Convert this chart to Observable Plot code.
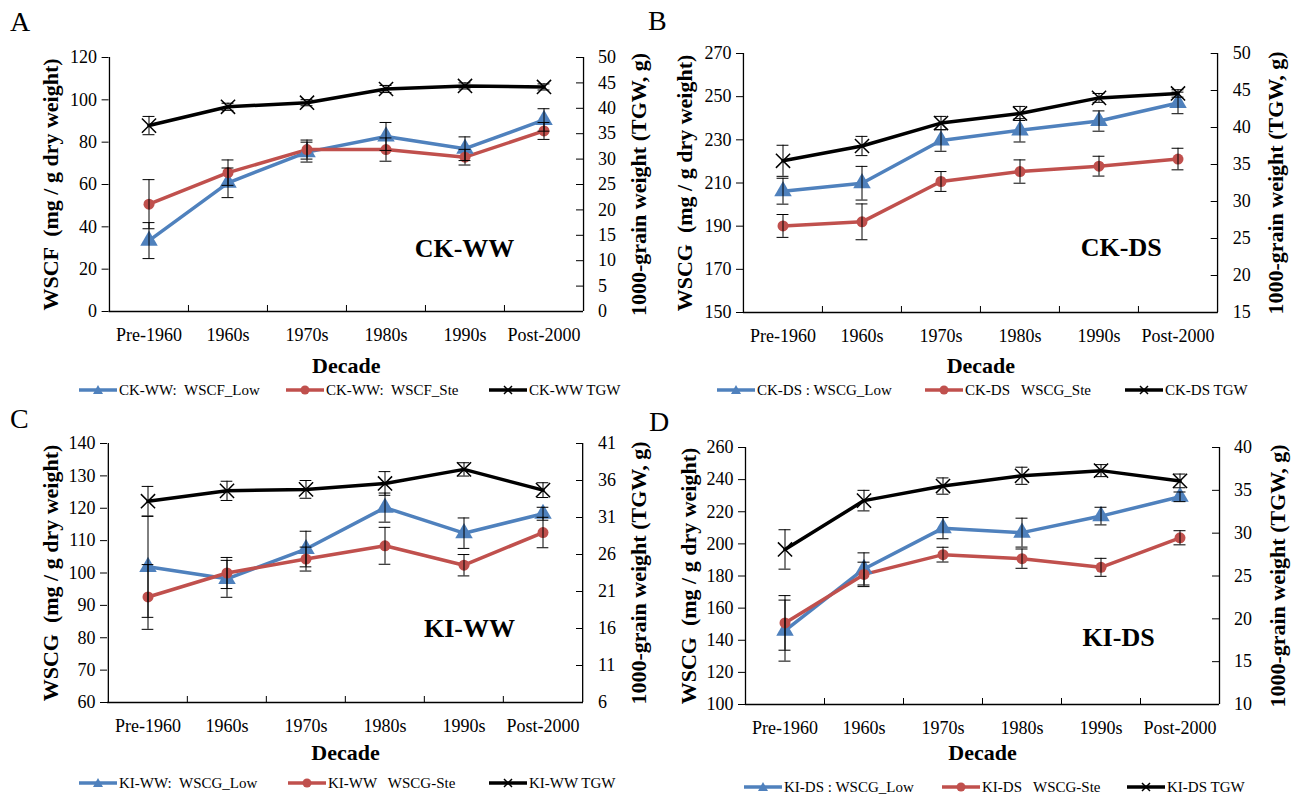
<!DOCTYPE html>
<html><head><meta charset="utf-8">
<script src="https://cdn.jsdelivr.net/npm/d3@7"></script>
<script src="https://cdn.jsdelivr.net/npm/@observablehq/plot@0.6"></script>
<style>
body{margin:0;background:#fff;}
#root{position:relative;width:1291px;height:795px;overflow:hidden;font-family:"Liberation Serif","Times New Roman",serif;color:#000;}
.panel{position:absolute;}
.letter{position:absolute;font-size:28px;line-height:1;}
.leg{position:absolute;font-size:15px;line-height:16px;white-space:pre;display:flex;align-items:center;}
.leg svg{margin-right:2px;}
</style></head><body><div id="root"></div>
<script>
const decades = ["Pre-1960","1960s","1970s","1980s","1990s","Post-2000"];

// Panel A: CK-WW (WSCF)
const aLow = [33.5, 60.8, 75.3, 82.7, 76.9, 90.5];
const aLowErr = [8.5, 7, 4.7, 6.6, 5.6, 5.3];
const aSte = [50.7, 65.6, 76.5, 76.5, 72.9, 85.3];
const aSteErr = [11.6, 6, 4.5, 5.5, 3.7, 4];
const aTgw = [36.6, 40.3, 41.1, 43.8, 44.4, 44.2];
const aTgwErr = [1.8, 0.7, 0.6, 0.7, 0.6, 0.6];
const aTicksLeft = [0, 20, 40, 60, 80, 100, 120];
const aTicksRight = [0, 5, 10, 15, 20, 25, 30, 35, 40, 45, 50];

// Panel B: CK-DS (WSCG)
const bLow = [206.2, 209.9, 229.7, 234.4, 238.7, 247.1];
const bLowErr = [6, 7.8, 5, 5.4, 4.7, 5];
const bSte = [190.1, 192, 210.7, 215.3, 217.8, 221.1];
const bSteErr = [5.3, 8.3, 4.6, 5.4, 4.6, 5];
const bTgw = [35.5, 37.5, 40.6, 41.9, 44.0, 44.6];
const bTgwErr = [2.1, 1.3, 0.9, 0.95, 0.6, 0.5];
const bTicksLeft = [150, 170, 190, 210, 230, 250, 270];
const bTicksRight = [15, 20, 25, 30, 35, 40, 45, 50];

// Panel C: KI-WW (WSCG)
const cLow = [101.9, 98.2, 107.4, 120.2, 112.3, 118.3];
const cLowErr = [15.6, 5.7, 5.5, 4.5, 4.7, 2];
const cSte = [92.6, 100, 104.3, 108.4, 102.4, 112.5];
const cSteErr = [10, 4.8, 3.7, 5.7, 3.3, 4.7];
const cTgw = [33.2, 34.6, 34.8, 35.6, 37.5, 34.7];
const cTgwErr = [2, 1.3, 1.2, 1.6, 0.9, 1];
const cTicksLeft = [60, 70, 80, 90, 100, 110, 120, 130, 140];
const cTicksRight = [6, 11, 16, 21, 26, 31, 36, 41];

// Panel D: KI-DS (WSCG)
const dLow = [146, 184.4, 209.8, 207, 217.3, 229.3];
const dLowErr = [19, 10, 6.6, 9, 5.5, 3];
const dSte = [150.8, 181, 193.3, 190.8, 185.4, 203.8];
const dSteErr = [17, 7.6, 4.6, 6, 5.6, 4.4];
const dTgw = [28.1, 33.8, 35.5, 36.7, 37.3, 36.1];
const dTgwErr = [2.3, 1.2, 0.95, 1, 0.7, 0.8];
const dTicksLeft = [100, 120, 140, 160, 180, 200, 220, 240, 260];
const dTicksRight = [10, 15, 20, 25, 30, 35, 40];

const panelLetters = ["A", "B", "C", "D"];
const seriesNames = ["CK-WW", "CK-DS", "KI-WW", "KI-DS"];
const leftTitles = ["WSCF  (mg / g dry weight)", "WSCG  (mg / g dry weight)", "WSCG  (mg / g dry weight)", "WSCG  (mg / g dry weight)"];
const rightTitle = "1000-grain weight (TGW, g)";
const xTitle = "Decade";
const legendLabels = [
  ["CK-WW:  WSCF_Low", "CK-WW:  WSCF_Ste", "CK-WW TGW"],
  ["CK-DS : WSCG_Low", "CK-DS   WSCG_Ste", "CK-DS TGW"],
  ["KI-WW:  WSCG_Low", "KI-WW   WSCG-Ste", "KI-WW TGW"],
  ["KI-DS : WSCG_Low", "KI-DS   WSCG-Ste", "KI-DS TGW"]
];

const BLUE = "#4F81BD", RED = "#C0504D";

// layout (pixels)
const layouts = [
  {left: 0,   top: 0,   W: 660, H: 375, mL: 108.6, mR: 77,   mT: 57, mB: 64, lt: 50,  rt: 638, nameDx: -119, nameDy: -63, decDy: 54, letter: [10, 8], legY: 390, legX: [79, 286, 489]},
  {left: 645, top: 0,   W: 646, H: 375, mL: 98,   mR: 73.3, mT: 53, mB: 63, lt: 39,  rt: 630, nameDx: -97,  nameDy: -65, decDy: 53, letter: [3, 7],  legY: 390, legX: [717, 925, 1125]},
  {left: 0,   top: 400, W: 660, H: 375, mL: 107,  mR: 77,   mT: 43, mB: 73, lt: 50,  rt: 638, nameDx: -114, nameDy: -74, decDy: 50, letter: [10, 5], legY: 783, legX: [79, 288, 489]},
  {left: 645, top: 400, W: 646, H: 375, mL: 100,  mR: 72,   mT: 47, mB: 71, lt: 43,  rt: 632, nameDx: -101, nameDy: -67, decDy: 48, letter: [4, 8],  legY: 787, legX: [744, 942, 1127]}
];

const panels = [
  {low: aLow, lowErr: aLowErr, ste: aSte, steErr: aSteErr, tgw: aTgw, tgwErr: aTgwErr, tL: aTicksLeft, tR: aTicksRight},
  {low: bLow, lowErr: bLowErr, ste: bSte, steErr: bSteErr, tgw: bTgw, tgwErr: bTgwErr, tL: bTicksLeft, tR: bTicksRight},
  {low: cLow, lowErr: cLowErr, ste: cSte, steErr: cSteErr, tgw: cTgw, tgwErr: cTgwErr, tL: cTicksLeft, tR: cTicksRight},
  {low: dLow, lowErr: dLowErr, ste: dSte, steErr: dSteErr, tgw: dTgw, tgwErr: dTgwErr, tL: dTicksLeft, tR: dTicksRight}
];

const root = document.getElementById("root");
const FONT = "'Liberation Serif', 'Times New Roman', serif";

function swatch(kind) {
  const ns = "http://www.w3.org/2000/svg";
  const s = document.createElementNS(ns, "svg");
  s.setAttribute("width", 38); s.setAttribute("height", 14);
  const color = kind === 0 ? BLUE : kind === 1 ? RED : "#000";
  let inner = `<line x1="0" y1="7" x2="38" y2="7" stroke="${color}" stroke-width="3.5"/>`;
  if (kind === 0) inner += `<path d="M19,2 L24,11 L14,11 Z" fill="${color}"/>`;
  else if (kind === 1) inner += `<circle cx="19" cy="7" r="4.5" fill="${color}"/>`;
  else inner += `<path d="M15,3 L23,11 M23,3 L15,11" stroke="#000" stroke-width="1.5"/>`;
  s.innerHTML = inner;
  return s;
}

panels.forEach((p, k) => {
  const L = layouts[k];
  const plotW = L.W - L.mL - L.mR;
  const plotH = L.H - L.mT - L.mB;
  const band = plotW / decades.length;
  const yLo = p.tL[0], yHi = p.tL[p.tL.length - 1];
  const toL = d3.scaleLinear().domain([p.tR[0], p.tR[p.tR.length - 1]]).range([yLo, yHi]);
  const mk = (v, e) => decades.map((c, i) => ({c, v: v[i], lo: v[i] - e[i], hi: v[i] + e[i]}));
  const low = mk(p.low, p.lowErr), ste = mk(p.ste, p.steErr);
  const tgw = decades.map((c, i) => ({c, v: toL(p.tgw[i]), lo: toL(p.tgw[i] - p.tgwErr[i]), hi: toL(p.tgw[i] + p.tgwErr[i])}));
  const cap = {insetLeft: band / 2 - 6, insetRight: band / 2 - 6, stroke: "#000", strokeWidth: 1};
  const err = (d) => [
    Plot.ruleX(d, {x: "c", y1: "lo", y2: "hi", stroke: "#000", strokeWidth: 1}),
    Plot.tickY(d, {x: "c", y: "lo", ...cap}),
    Plot.tickY(d, {x: "c", y: "hi", ...cap})
  ];

  const chart = Plot.plot({
    width: L.W, height: L.H,
    marginLeft: L.mL, marginRight: L.mR, marginTop: L.mT, marginBottom: L.mB,
    style: {fontFamily: FONT, fontSize: "18px", background: "transparent", overflow: "visible", color: "#000"},
    x: {type: "band", domain: decades, padding: 0},
    y: {domain: [yLo, yHi]},
    marks: [
      Plot.ruleY([yLo], {stroke: "#000", strokeWidth: 1.3}),
      Plot.ruleX([decades[0]], {dx: -band / 2, stroke: "#000", strokeWidth: 1.3}),
      Plot.ruleX([decades[decades.length - 1]], {dx: band / 2, stroke: "#000", strokeWidth: 1.3}),
      // left axis (ticks outward)
      Plot.axisY(p.tL, {anchor: "left", tickSize: 7, tickPadding: 5, label: null, fontSize: 18}),
      // right axis labels
      Plot.axisY(p.tR.map(toL), {anchor: "right", tickSize: 0, tickPadding: 14.5, label: null, fontSize: 18,
        tickFormat: (d) => String(Math.round(toL.invert(d)))}),
      // right axis ticks pointing inward
      Plot.axisY(p.tR.map(toL), {anchor: "left", dx: plotW, tickSize: 7, tickFormat: () => "", label: null}),
      // x labels centred on categories
      Plot.axisX(decades, {anchor: "bottom", tickSize: 0, tickPadding: 17, label: null, fontSize: 18}),
      // category boundary ticks pointing up
      Plot.axisX(decades.slice(1), {anchor: "top", dy: plotH, dx: -band / 2, tickSize: 7, tickFormat: () => "", label: null}),
      Plot.line(low, {x: "c", y: "v", stroke: BLUE, strokeWidth: 3.5}),
      Plot.line(ste, {x: "c", y: "v", stroke: RED, strokeWidth: 3.5}),
      Plot.line(tgw, {x: "c", y: "v", stroke: "#000", strokeWidth: 3.5}),
      Plot.dot(low, {x: "c", y: "v", symbol: "triangle", r: 6.5, fill: BLUE}),
      Plot.dot(ste, {x: "c", y: "v", symbol: "circle", r: 5.5, fill: RED}),
      Plot.dot(tgw, {x: "c", y: "v", symbol: "times", r: 6.5, stroke: "#000", strokeWidth: 1.5}),
      ...err(low), ...err(ste), ...err(tgw),
      Plot.text([leftTitles[k]], {text: d => d, frameAnchor: "left", dx: L.lt - L.mL, rotate: -90, textAnchor: "middle", lineAnchor: "middle", fontSize: 22, fontWeight: "bold"}),
      Plot.text([rightTitle], {text: d => d, frameAnchor: "right", dx: L.rt - (L.W - L.mR), rotate: -90, textAnchor: "middle", lineAnchor: "middle", fontSize: 22, fontWeight: "bold"}),
      Plot.text([xTitle], {text: d => d, frameAnchor: "bottom", dy: L.decDy, textAnchor: "middle", lineAnchor: "middle", fontSize: 22, fontWeight: "bold"}),
      Plot.text([seriesNames[k]], {text: d => d, frameAnchor: "bottom-right", dx: L.nameDx, dy: L.nameDy, textAnchor: "middle", lineAnchor: "middle", fontSize: 26, fontWeight: "bold"})
    ]
  });

  const div = document.createElement("div");
  div.className = "panel";
  div.style.left = L.left + "px"; div.style.top = L.top + "px";
  div.appendChild(chart);
  root.appendChild(div);

  const letter = document.createElement("div");
  letter.className = "letter";
  letter.textContent = panelLetters[k];
  letter.style.left = (L.left + L.letter[0]) + "px";
  letter.style.top = (L.top + L.letter[1]) + "px";
  root.appendChild(letter);

  legendLabels[k].forEach((lab, j) => {
    const item = document.createElement("div");
    item.className = "leg";
    item.style.left = L.legX[j] + "px";
    item.style.top = (L.legY - 8) + "px";
    item.appendChild(swatch(j));
    const sp = document.createElement("span");
    sp.textContent = lab;
    item.appendChild(sp);
    root.appendChild(item);
  });
});
</script></body></html>
